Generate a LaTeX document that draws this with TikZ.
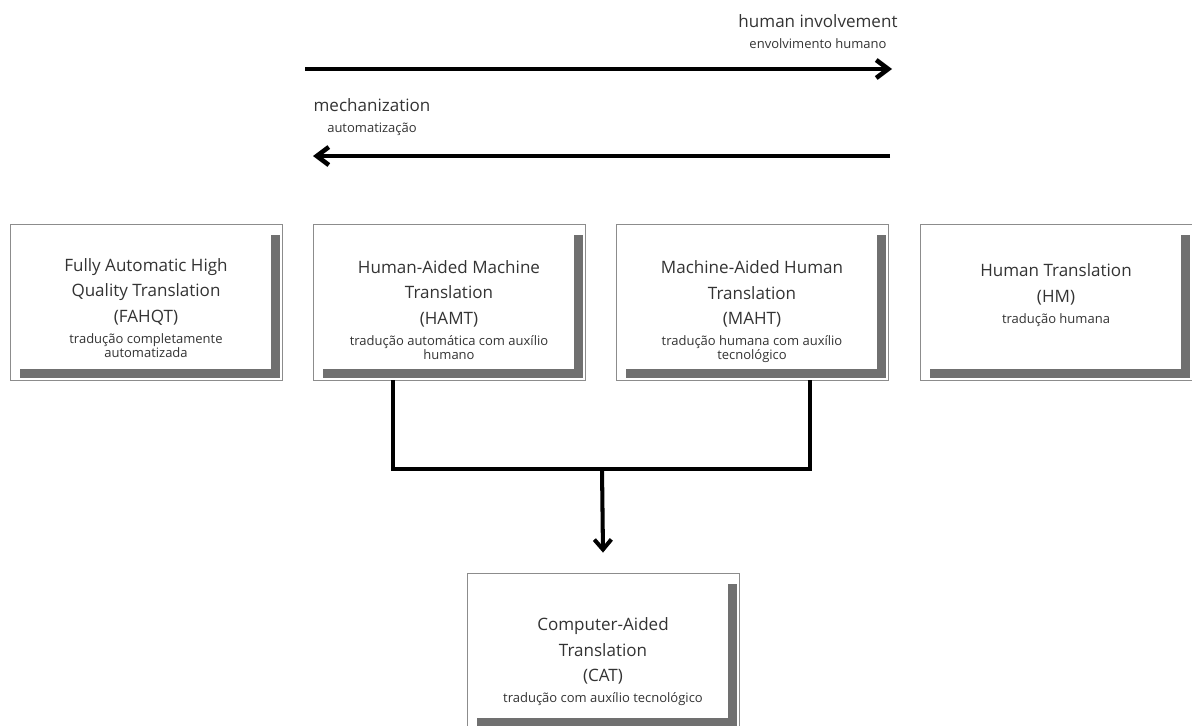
\documentclass[tikz,border=0pt]{standalone}
\usepackage{fontspec}
\setmainfont{Open Sans}
\usetikzlibrary{arrows.meta,positioning,calc}
\newcommand{\titlesize}{\fontsize{9.7}{14.5}\selectfont}
\newcommand{\subsize}{\fontsize{7.4}{8}\selectfont}
\definecolor{shadowgray}{HTML}{707070}
\tikzset{
  frame box/.style = {draw=black!45, line width=0.5pt, fill=white, inner sep=0pt,
                      minimum width=5.44cm, minimum height=3.12cm,
                      path picture={
                        \fill[shadowgray]
                          ([xshift=-0.22cm,yshift=-0.22cm]path picture bounding box.north east)
                          rectangle ([xshift=-0.04cm,yshift=0.04cm]path picture bounding box.south east);
                        \fill[shadowgray]
                          ([xshift=0.2cm,yshift=0.04cm]path picture bounding box.south west)
                          rectangle ([xshift=-0.04cm,yshift=0.22cm]path picture bounding box.south east);
                      }},
  box text/.style  = {align=center, font=\titlesize, text=black!80, inner sep=0pt},
  flow/.style      = {-{Straight Barb[length=2.4mm,width=3.6mm]}, line width=2.6pt},
  link/.style      = {line width=2.3pt},
}

\begin{document}
\begin{tikzpicture}[x=0.02cm, y=-0.02cm]
  \useasboundingbox (0,0) rectangle (1192,725);

  % ---- the two direction arrows ------------------------------------------
  \coordinate (inv-start) at (305,69);
  \coordinate (inv-end)   at (892,69);
  \coordinate (mech-start) at (890,156);
  \coordinate (mech-end)   at (313,156);
  \draw[flow] (inv-start) -- (inv-end);
  \draw[flow] (mech-start) -- (mech-end);
  \node[box text] (inv-label) at (818,32)
    {human involvement\\[-2.5pt]{\subsize envolvimento humano}};
  \node[box text] (mech-label) at (372,117)
    {mechanization\\[-2.5pt]{\subsize automatização}};

  % ---- the four kinds of translation -------------------------------------
  \node[frame box] (fahqt) at (146,302) {};
  \node[frame box] (hamt)  at (449,302) {};
  \node[frame box] (maht)  at (752,302) {};
  \node[frame box] (hm)    at (1056,302) {};
  \node[frame box] (cat)   at (603,651) {};

  \node[box text] (fahqt-text) at (146,308)
    {Fully Automatic High\\Quality Translation\\(FAHQT)\\[-2.5pt]
     {\subsize tradução completamente}\\[-6.5pt]{\subsize automatizada}};
  \node[box text] (hamt-text) at (449,310)
    {Human-Aided Machine\\Translation\\(HAMT)\\[-2.5pt]
     {\subsize tradução automática com auxílio}\\[-6.5pt]{\subsize humano}};
  \node[box text] (maht-text) at (752,312)
    {Machine-Aided Human\\Translation\\(MAHT)\\[-2.5pt]
     {\subsize tradução humana com auxílio}\\[-6.5pt]{\subsize tecnológico}};
  \node[box text] (hm-text) at (1056,295)
    {Human Translation\\(HM)\\[-2.5pt]{\subsize tradução humana}};
  \node[box text] (cat-text) at (603,662)
    {Computer-Aided\\Translation\\(CAT)\\[-2.5pt]{\subsize tradução com auxílio tecnológico}};

  % ---- HAMT and MAHT together make CAT -----------------------------------
  \coordinate (split) at (602,469);
  \draw[link] ([xshift=-1.12cm]hamt.south) |- (split) -| ([xshift=1.16cm]maht.south);
  \draw[link,-{Straight Barb[length=2mm,width=3.4mm]}] (split) -- ([yshift=0.4cm]cat.north);
\end{tikzpicture}
\end{document}
